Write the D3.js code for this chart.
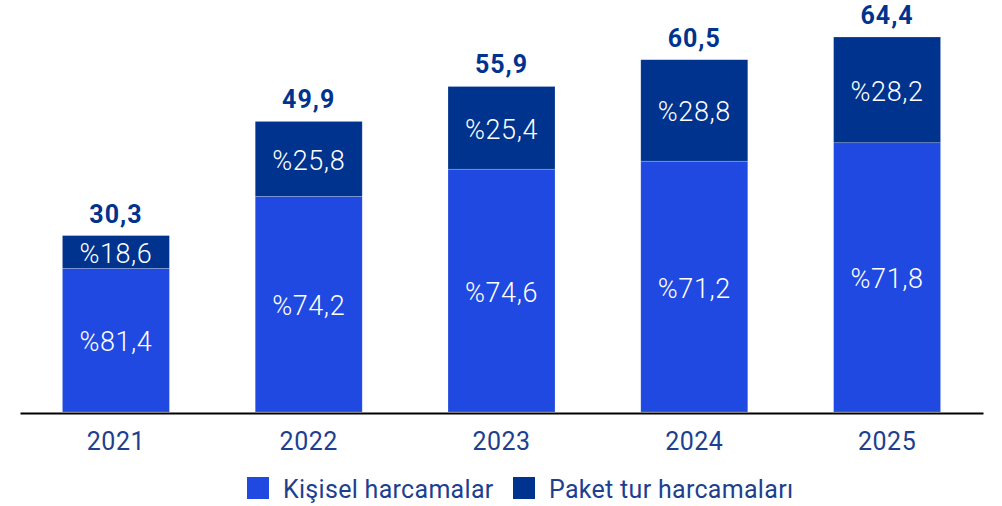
<!DOCTYPE html>
<html><head><meta charset="utf-8">
<script src="https://cdn.jsdelivr.net/npm/d3@7"></script>
<style>body{margin:0;background:#fff}svg{display:block}text{font-family:Roboto,"Liberation Sans",Arial,sans-serif}</style>
</head><body><svg id="c" width="1002" height="506"></svg>
<script>
const years = ["2021","2022","2023","2024","2025"];
const totals = [30.3, 49.9, 55.9, 60.5, 64.4];
const personalPct = [81.4, 74.2, 74.6, 71.2, 71.8];
const packagePct = [18.6, 25.8, 25.4, 28.8, 28.2];
const seriesNames = ["Kişisel harcamalar", "Paket tur harcamaları"];
const colors = ["#1F49E0", "#00338D"];

const svg = d3.select("#c");
const x = d3.scaleBand().domain(years).range([20, 983]).paddingInner(0.445).paddingOuter(0.22);
const y = d3.scaleLinear().domain([0, 64.4]).range([412, 37]);
const fmt = v => String(v.toFixed(1)).replace(".", ",");

const data = years.map((yr, i) => {
  const p = totals[i] * personalPct[i] / 100;
  return {yr, total: totals[i], segs: [
    {y0: 0, y1: p, pct: personalPct[i], c: colors[0]},
    {y0: p, y1: totals[i], pct: packagePct[i], c: colors[1]}
  ]};
});

const g = svg.append("g");
data.forEach(d => {
  d.segs.forEach(s => {
    g.append("rect").attr("x", x(d.yr)).attr("width", x.bandwidth())
      .attr("y", y(s.y1)).attr("height", y(s.y0) - y(s.y1))
      .attr("fill", s.c).attr("stroke", "#ffffff").attr("stroke-opacity", 0.35).attr("stroke-width", 0.6);
    g.append("text").attr("x", x(d.yr) + x.bandwidth()/2).attr("y", (y(s.y0) + y(s.y1))/2 + 2)
      .attr("text-anchor", "middle").attr("dominant-baseline", "central")
      .attr("fill", "#fff").attr("font-size", 27).attr("font-weight", 300).attr("letter-spacing", 0.6)
      .text("%" + fmt(s.pct));
  });
  g.append("text").attr("x", x(d.yr) + x.bandwidth()/2).attr("y", y(d.total) - 13)
    .attr("text-anchor", "middle").attr("fill", "#00338D").attr("font-size", 25).attr("font-weight", 700)
    .attr("letter-spacing", 1)
    .text(fmt(d.total));
});

const axis = svg.append("g").attr("transform", "translate(0,413)")
  .call(d3.axisBottom(x).tickSize(0).tickPadding(19));
axis.select(".domain").attr("stroke", "#000").attr("stroke-width", 2);
axis.selectAll("text").attr("fill", "#1E3F8F").attr("font-size", 25).attr("letter-spacing", 0.5)
  .attr("font-family", "Roboto, 'Liberation Sans', Arial, sans-serif").attr("font-weight", 400);

const leg = svg.append("g");
const legX = [247, 513];
seriesNames.forEach((n, i) => {
  leg.append("rect").attr("x", legX[i]).attr("y", 477).attr("width", 22).attr("height", 22).attr("fill", colors[i]);
  leg.append("text").attr("x", legX[i] + 36).attr("y", 489).attr("dominant-baseline", "central")
    .attr("fill", "#1E3F8F").attr("font-size", 25).attr("letter-spacing", 0.3).text(n);
});
</script></body></html>
